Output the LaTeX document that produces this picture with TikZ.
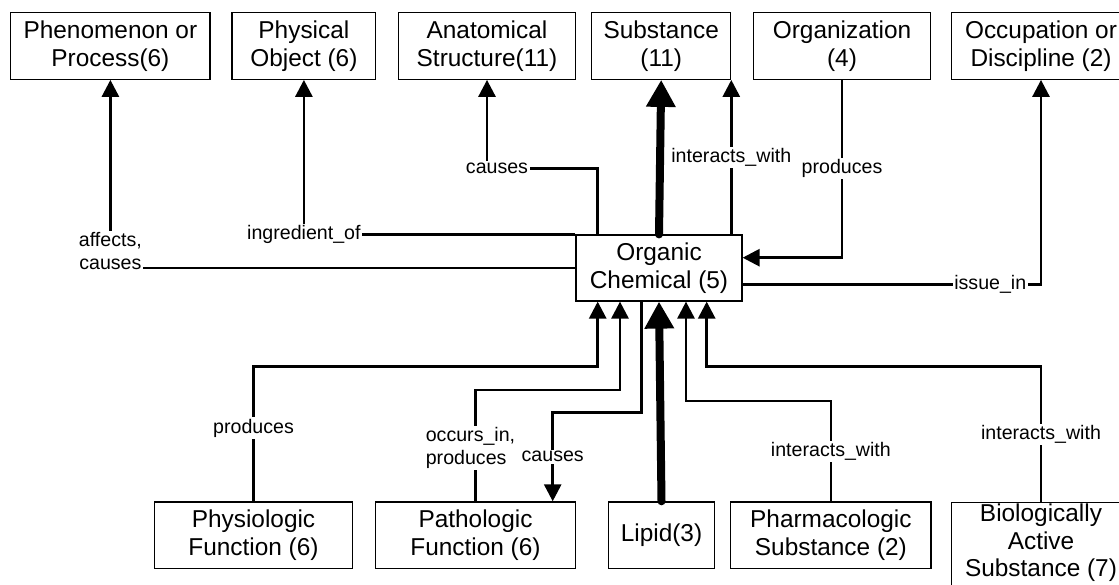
\documentclass[tikz,border=0pt]{standalone}
\usepackage{fontspec}
\setmainfont{Liberation Sans}
\usetikzlibrary{arrows.meta}

\begin{document}
\begin{tikzpicture}[x=1pt,y=-1pt,
    box/.style={draw,line width=1.2pt,minimum height=66.6pt,inner sep=0pt,
      align=center,font=\fontsize{24.4}{28}\selectfont},
    lbl/.style={fill=white,inner sep=1.5pt,align=center,
      font=\fontsize{19.6}{23}\selectfont},
    conn/.style={line width=2.8pt,-{Triangle[length=17pt,width=17pt]}},
    fat/.style={line width=8pt,line cap=round,-{Triangle[length=27pt,width=28pt]}}]
  \useasboundingbox (0,0) rectangle (1119,585);

  % top row
  \node[box,minimum width=199.3pt] (phen) at (110.4,46) {Phenomenon or\\Process(6)};
  \node[box,minimum width=143.7pt] (phys) at (303.9,46) {Physical\\Object (6)};
  \node[box,minimum width=177.5pt] (anat) at (487,46) {Anatomical\\Structure(11)};
  \node[box,minimum width=139pt] (subst) at (661.2,46) {Substance\\(11)};
  \node[box,minimum width=177.5pt] (org) at (842,46) {Organization\\(4)};
  \node[box,minimum width=178.6pt] (occ) at (1041,46) {Occupation or\\Discipline (2)};

  % centre
  \node[box,minimum width=166pt,minimum height=66pt] (oc) at (659,268) {Organic\\Chemical (5)};

  % bottom row
  \node[box,minimum width=198.4pt] (physio) at (253.5,535.2) {Physiologic\\Function (6)};
  \node[box,minimum width=199.6pt] (patho) at (475.5,535.2) {Pathologic\\Function (6)};
  \node[box,minimum width=105.7pt] (lipid) at (661.5,535.2) {Lipid(3)};
  \node[box,minimum width=200.3pt] (pharma) at (830.9,535.2) {Pharmacologic\\Substance (2)};
  \node[box,minimum width=178.6pt,minimum height=95pt,anchor=north] (bio) at (1041,502) {};
  \node[anchor=north,inner sep=0pt,align=center,font=\fontsize{24.4}{27.4}\selectfont]
    (biotext) at (1041,504) {Biologically\\Active\\Substance (7)};

  % links going up
  \draw[fat] (oc.north) -- (subst.south);
  \draw[conn] (oc.west) -| node[lbl,pos=0.5,anchor=south,yshift=-4.5pt] {affects,\\causes} (phen.south);
  \draw[conn] (oc.north west) -| node[lbl,pos=0.5] {ingredient\_of} (phys.south);
  \draw[conn] (oc.north -| 597.3,0) |- (anat.south |- 0,168.3) node[lbl,xshift=10pt] {causes} -- (anat.south);
  \draw[conn] (oc.north -| subst.south east) -- node[lbl] {interacts\_with} (subst.south east);
  \draw[conn] (org.south) |- node[lbl,pos=0.25] {produces} (oc.east |- 0,257.7);
  \draw[conn] (oc.east |- 0,284.3) -| node[lbl,pos=0.415] {issue\_in} (occ.south);

  % links coming from below
  \draw[fat] (lipid.north) -- (oc.south);
  \draw[conn] (physio.north) |- node[lbl,pos=0.272] {produces} (597.7,366.7) -- (597.7,0 |- oc.south);
  \draw[conn] (patho.north) |- node[lbl,pos=0.24,align=left,xshift=-5pt] {occurs\_in,\\produces} (620,390) -- (620,0 |- oc.south);
  \draw[conn] (641.7,0 |- oc.south) |- (552.7,412.3) -- node[lbl] {causes} (552.7,0 |- patho.north);
  \draw[conn] (pharma.north) |- node[lbl,pos=0.25] {interacts\_with} (686,401) -- (686,0 |- oc.south);
  \draw[conn] (bio.north) |- node[lbl,pos=0.25] {interacts\_with} (706.7,366.7) -- (706.7,0 |- oc.south);
\end{tikzpicture}
\end{document}
